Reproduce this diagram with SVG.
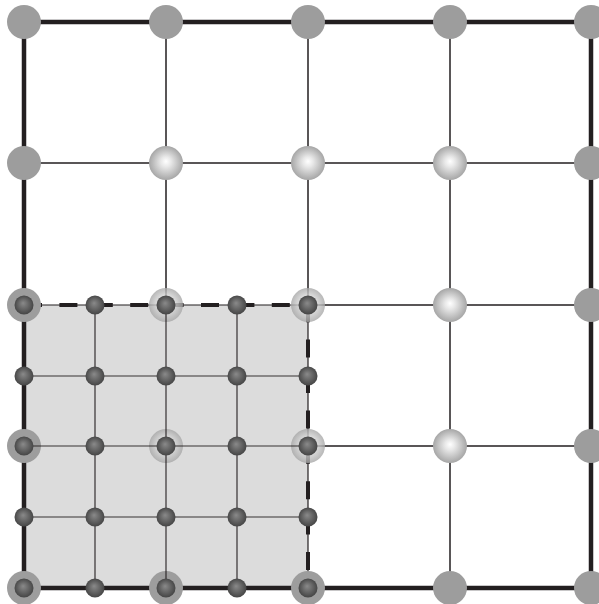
<svg xmlns="http://www.w3.org/2000/svg" width="599" height="604" viewBox="0 0 599 604">
<defs>
<radialGradient id="lg" cx="0.5" cy="0.5" r="0.5" fx="0.5" fy="0.45">
<stop offset="0" stop-color="#ffffff"/>
<stop offset="0.3" stop-color="#e8e8e8"/>
<stop offset="1" stop-color="#a6a6a6"/>
</radialGradient>
<radialGradient id="dg" cx="0.5" cy="0.5" r="0.55" fx="0.45" fy="0.4">
<stop offset="0" stop-color="#8a8a8a"/>
<stop offset="0.7" stop-color="#565656"/>
<stop offset="1" stop-color="#404040"/>
</radialGradient>
<style>
.cl{stroke:#231f20;stroke-width:1.5;fill:none}
.fl{stroke:#231f20;stroke-width:1.2;fill:none;opacity:0.9}
.bd{stroke:#231f20;stroke-width:4.5;fill:none}
.bn{fill:#9d9d9d}
.ln{fill:url(#lg)}
.hl{fill:url(#lg);opacity:0.8}
.dn{fill:url(#dg)}
</style>
</defs>
<rect id="refined-region" x="24" y="305" width="284" height="283" fill="#dcdcdc"/>
<g id="connectors">
<path class="cl" d="M166,22V305M308,22V305M450,22V588M24,163H591M308,305H591M308,446H591"/>
<rect class="bd" x="24" y="22" width="567" height="566"/>
<path d="M24,305H308V588" stroke="#231f20" stroke-width="1.2" fill="none"/>
<path d="M24,305H308V588" stroke="#231f20" stroke-width="4" fill="none" stroke-dasharray="18 17.4"/>
</g>
<g id="coarse-boundary-nodes">
<circle class="bn" cx="24" cy="22" r="17"/>
<circle class="bn" cx="166" cy="22" r="17"/>
<circle class="bn" cx="308" cy="22" r="17"/>
<circle class="bn" cx="450" cy="22" r="17"/>
<circle class="bn" cx="591" cy="22" r="17"/>
<circle class="bn" cx="24" cy="163" r="17"/>
<circle class="bn" cx="591" cy="163" r="17"/>
<circle class="bn" cx="24" cy="305" r="17"/>
<circle class="bn" cx="591" cy="305" r="17"/>
<circle class="bn" cx="24" cy="446" r="17"/>
<circle class="bn" cx="591" cy="446" r="17"/>
<circle class="bn" cx="24" cy="588" r="17"/>
<circle class="bn" cx="166" cy="588" r="17"/>
<circle class="bn" cx="308" cy="588" r="17"/>
<circle class="bn" cx="450" cy="588" r="17"/>
<circle class="bn" cx="591" cy="588" r="17"/>
</g>
<g id="coarse-interior-nodes">
<circle class="ln" cx="166" cy="163" r="17"/>
<circle class="ln" cx="308" cy="163" r="17"/>
<circle class="ln" cx="450" cy="163" r="17"/>
<circle class="ln" cx="450" cy="305" r="17"/>
<circle class="ln" cx="450" cy="446" r="17"/>
<circle class="hl" cx="166" cy="305" r="17"/>
<circle class="hl" cx="308" cy="305" r="17"/>
<circle class="hl" cx="166" cy="446" r="17"/>
<circle class="hl" cx="308" cy="446" r="17"/>
</g>
<g id="fine-lines">
<path class="fl" d="M95,305V588M166,305V588M237,305V588M24,376H308M24,446H308M24,517H308"/>
</g>
<g id="fine-nodes">
<circle class="dn" cx="24" cy="305" r="9.5"/><circle class="dn" cx="95" cy="305" r="9.5"/><circle class="dn" cx="166" cy="305" r="9.5"/><circle class="dn" cx="237" cy="305" r="9.5"/><circle class="dn" cx="308" cy="305" r="9.5"/>
<circle class="dn" cx="24" cy="376" r="9.5"/><circle class="dn" cx="95" cy="376" r="9.5"/><circle class="dn" cx="166" cy="376" r="9.5"/><circle class="dn" cx="237" cy="376" r="9.5"/><circle class="dn" cx="308" cy="376" r="9.5"/>
<circle class="dn" cx="24" cy="446" r="9.5"/><circle class="dn" cx="95" cy="446" r="9.5"/><circle class="dn" cx="166" cy="446" r="9.5"/><circle class="dn" cx="237" cy="446" r="9.5"/><circle class="dn" cx="308" cy="446" r="9.5"/>
<circle class="dn" cx="24" cy="517" r="9.5"/><circle class="dn" cx="95" cy="517" r="9.5"/><circle class="dn" cx="166" cy="517" r="9.5"/><circle class="dn" cx="237" cy="517" r="9.5"/><circle class="dn" cx="308" cy="517" r="9.5"/>
<circle class="dn" cx="24" cy="588" r="9.5"/><circle class="dn" cx="95" cy="588" r="9.5"/><circle class="dn" cx="166" cy="588" r="9.5"/><circle class="dn" cx="237" cy="588" r="9.5"/><circle class="dn" cx="308" cy="588" r="9.5"/>
</g>
</svg>
